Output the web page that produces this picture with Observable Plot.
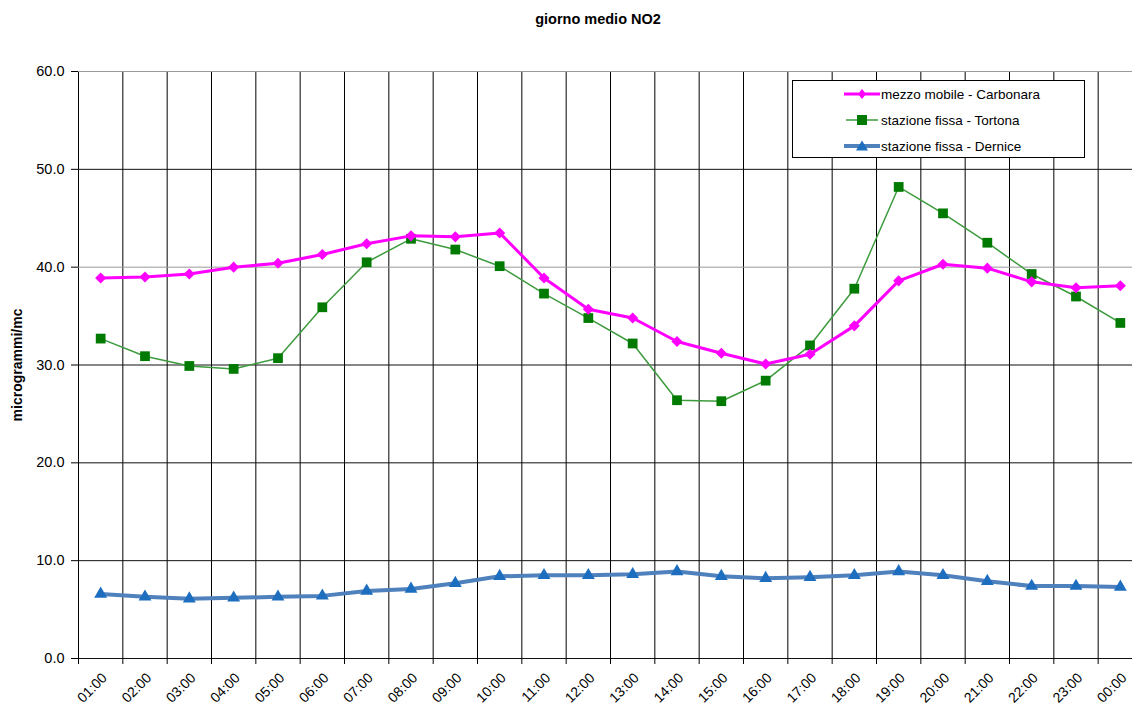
<!DOCTYPE html>
<html>
<head>
<meta charset="utf-8">
<script src="https://cdn.jsdelivr.net/npm/d3@7"></script>
<script src="https://cdn.jsdelivr.net/npm/@observablehq/plot@0.6"></script>
<style>
  html, body { margin: 0; padding: 0; background: #fff; overflow: hidden; }
  #wrap { position: relative; width: 1132px; height: 708px; overflow: hidden; font-family: "Liberation Sans", Arial, sans-serif; }
  #title { position: absolute; left: 398px; width: 400px; top: 11px; text-align: center; font-weight: bold; font-size: 14.5px; color: #000; }
  #chart { position: absolute; left: 0; top: 50px; }
  #legend { position: absolute; left: 792px; top: 80px; width: 291px; height: 76px; border: 1px solid #000; background: #fff; }
  .row { position: absolute; left: 51px; height: 20px; display: flex; align-items: center; font-size: 13.5px; color: #000; }
  .row svg { margin-right: 1px; }
</style>
</head>
<body>
<div id="wrap">
  <div id="title">giorno medio NO2</div>
  <div id="chart"></div>
  <div id="legend">
    <div class="row" style="top:3px"><svg width="36" height="14"><line x1="0" y1="7" x2="36" y2="7" stroke="#FF00FF" stroke-width="3"/><path d="M18,2 L22,7 L18,12 L14,7 Z" fill="#FF00FF"/></svg>mezzo mobile - Carbonara</div>
    <div class="row" style="top:29px"><svg width="36" height="14"><line x1="2" y1="7" x2="34" y2="7" stroke="#3D9B3D" stroke-width="1.5"/><rect x="13" y="2" width="10" height="10" fill="#007A00"/></svg>stazione fissa - Tortona</div>
    <div class="row" style="top:55px"><svg width="36" height="14"><line x1="0" y1="7" x2="36" y2="7" stroke="#4F81BD" stroke-width="4"/><path d="M18,1.5 L24,11.5 L12,11.5 Z" fill="#1E6EC0"/></svg>stazione fissa - Dernice</div>
  </div>
</div>
<script>
const hours = ["01:00","02:00","03:00","04:00","05:00","06:00","07:00","08:00","09:00","10:00","11:00","12:00",
               "13:00","14:00","15:00","16:00","17:00","18:00","19:00","20:00","21:00","22:00","23:00","00:00"];
const carbonara = [38.9,39.0,39.3,40.0,40.4,41.3,42.4,43.2,43.1,43.5,38.9,35.7,
                   34.8,32.4,31.2,30.1,31.1,34.0,38.6,40.3,39.9,38.5,37.9,38.1];
const tortona   = [32.7,30.9,29.9,29.6,30.7,35.9,40.5,42.9,41.8,40.1,37.3,34.8,
                   32.2,26.4,26.3,28.4,32.0,37.8,48.2,45.5,42.5,39.3,37.0,34.3];
const dernice   = [6.6,6.3,6.1,6.2,6.3,6.4,6.9,7.1,7.7,8.4,8.5,8.5,
                   8.6,8.9,8.4,8.2,8.3,8.5,8.9,8.5,7.9,7.4,7.4,7.3];
const yTicks = [0,10,20,30,40,50,60];

const rows = (vals) => vals.map((v, i) => ({x: i + 1, y: v, h: hours[i]}));
const dC = rows(carbonara), dT = rows(tortona), dD = rows(dernice);
const bounds = d3.range(0, hours.length + 1).map(i => i + 0.5);

const chart = Plot.plot({
  width: 1132,
  height: 658,
  marginTop: 21,
  marginBottom: 50,
  marginLeft: 78,
  marginRight: 0,
  style: {fontFamily: "Liberation Sans, Arial, sans-serif", background: "transparent", overflow: "visible"},
  x: {type: "linear", domain: [0.5, hours.length + 0.5], range: [78, 1142], label: null},
  y: {domain: [0, 60], label: null},
  marks: [
    Plot.ruleX(bounds, {x: d => d, y1: 0, y2: 60, stroke: "#000", strokeWidth: 1}),
    Plot.ruleY(yTicks, {y: d => d, x1: 0.5, x2: hours.length + 0.5, stroke: d => (d === 40 || d === 60) ? "#999" : "#111", strokeWidth: 1}),
    Plot.axisY({ticks: yTicks, tickSize: 7, tickPadding: 7, tickFormat: d3.format(".1f"), fontSize: 14.5, color: "#000",
                label: "microgrammi/mc", labelAnchor: "center", labelArrow: "none", labelOffset: 66}),
    Plot.axisX({ticks: bounds, tickSize: 6, tickFormat: () => "", color: "#000", label: null}),
    Plot.text(dC, {x: "x", y: 0, text: "h", rotate: -45, textAnchor: "end", dx: 4, dy: 17, fontSize: 14, fill: "#000"}),
    Plot.line(dD, {x: "x", y: "y", stroke: "#4F81BD", strokeWidth: 4}),
    Plot.dot(dD, {x: "x", y: "y", symbol: "triangle", r: 4.8, fill: "#1E6EC0", stroke: "none"}),
    Plot.line(dT, {x: "x", y: "y", stroke: "#3D9B3D", strokeWidth: 1.5}),
    Plot.dot(dT, {x: "x", y: "y", symbol: "square", r: 5.5, fill: "#007A00", stroke: "none"}),
    Plot.line(dC, {x: "x", y: "y", stroke: "#FF00FF", strokeWidth: 3}),
    Plot.dot(dC, {x: "x", y: "y", symbol: "diamond2", r: 5, fill: "#FF00FF", stroke: "none"})
  ]
});
chart.querySelectorAll("g[aria-label='y-axis label'] text, g[aria-label='y-axis label']").forEach(el => {
  el.setAttribute("font-weight", "bold"); el.setAttribute("font-size", "14");
});
document.getElementById("chart").appendChild(chart);
</script>
</body>
</html>
